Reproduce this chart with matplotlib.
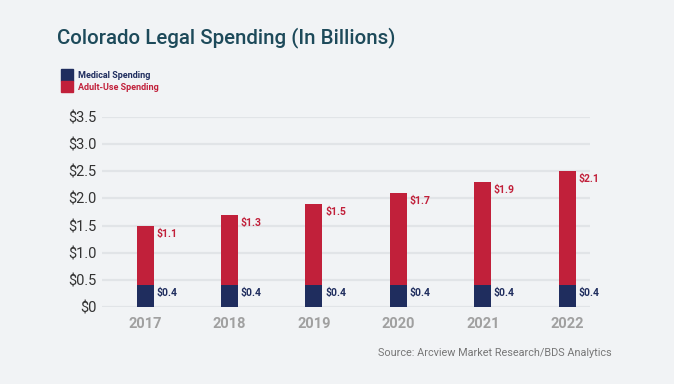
import numpy as np
import matplotlib.pyplot as plt
import matplotlib.patches as mpatches

# Données (milliards de dollars)
annees = ["2017", "2018", "2019", "2020", "2021", "2022"]
medical = [0.4, 0.4, 0.4, 0.4, 0.4, 0.4]
adulte = [1.1, 1.3, 1.5, 1.7, 1.9, 2.1]
ticks_y = [0, 0.5, 1.0, 1.5, 2.0, 2.5, 3.0, 3.5]
labels_y = ["$0", "$0.5", "$1.0", "$1.5", "$2.0", "$2.5", "$3.0", "$3.5"]

BG = "#f1f3f5"
NAVY = "#1f2d5e"
RED = "#c1203a"
TEAL = "#1d4a5a"

plt.rcParams['font.family'] = ['Roboto', 'DejaVu Sans']

fig = plt.figure(figsize=(6.74, 3.84), dpi=100, facecolor=BG)
ax = fig.add_axes([102 / 674, 1 - 307 / 384, 488 / 674, 190 / 384], facecolor=BG)

x = np.arange(len(annees))
ax.bar(x, medical, width=0.2, color=NAVY, zorder=3)
ax.bar(x, adulte, width=0.2, bottom=medical, color=RED, zorder=3)

# Étiquettes de valeurs à droite des barres
for i in range(len(annees)):
    ax.annotate(f"${medical[i]:.1f}", (x[i] + 0.1, medical[i]), xytext=(2, -2),
                textcoords="offset points", ha="left", va="top",
                fontsize=7.5, fontweight="bold", color=NAVY)
    total = medical[i] + adulte[i]
    ax.annotate(f"${adulte[i]:.1f}", (x[i] + 0.1, total), xytext=(2, -2),
                textcoords="offset points", ha="left", va="top",
                fontsize=7.5, fontweight="bold", color=RED)

ax.set_xlim(-0.51, 5.27)
ax.set_ylim(0, 3.5)
ax.set_yticks(ticks_y)
ax.set_yticklabels(labels_y, fontsize=10.5, color="#333333")
ax.set_xticks(x)
ax.set_xticklabels(annees, fontsize=10.5, color="#a0a0a0", fontweight="bold")
ax.tick_params(axis="both", length=0)
ax.tick_params(axis="y", pad=4)
ax.tick_params(axis="x", pad=7)
ax.yaxis.grid(True, color="#e1e4e7", linewidth=1.6, zorder=0)
for s in ax.spines.values():
    s.set_visible(False)

# Titre
fig.text(57 / 674, 1 - 38 / 384, "Colorado Legal Spending (In Billions)",
         fontsize=14.8, color=TEAL, fontweight="medium", va="center", ha="left")

# Légende
fig.patches.append(mpatches.Rectangle((61 / 674, 1 - 81 / 384), 12 / 674, 12 / 384,
                                      transform=fig.transFigure, color=NAVY))
fig.patches.append(mpatches.Rectangle((61 / 674, 1 - 92 / 384), 12 / 674, 11 / 384,
                                      transform=fig.transFigure, color=RED))
fig.text(78 / 674, 1 - 75 / 384, "Medical Spending", fontsize=6.5, color=NAVY,
         fontweight="bold", va="center", ha="left")
fig.text(78 / 674, 1 - 87 / 384, "Adult-Use Spending", fontsize=6.5, color=RED,
         fontweight="bold", va="center", ha="left")

# Source
fig.text(612 / 674, 1 - 353 / 384, "Source: Arcview Market Research/BDS Analytics",
         fontsize=7.8, color="#777777", va="center", ha="right")

fig.savefig("out.png", dpi=100, facecolor=BG)
